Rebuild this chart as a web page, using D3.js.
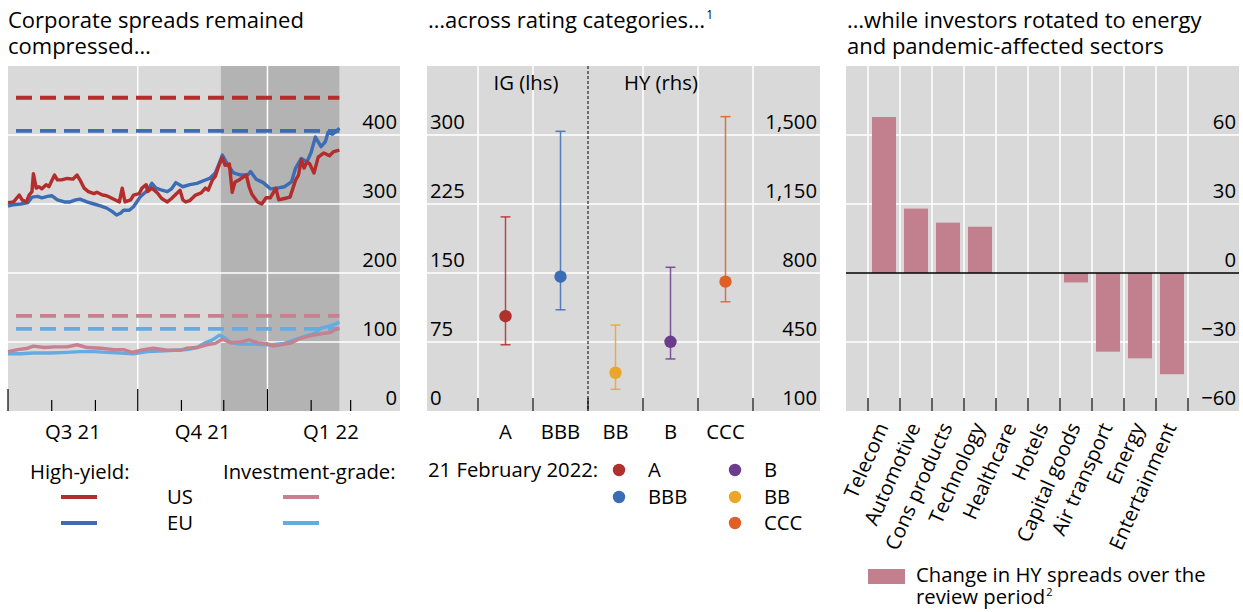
<!DOCTYPE html>
<html><head><meta charset="utf-8">
<script src="https://cdn.jsdelivr.net/npm/d3@7"></script>
<style>body{margin:0;background:#fff}svg{display:block;font-family:"Open Sans",sans-serif}</style>
</head><body>
<script>
// ---------- Panel 1 data ----------
const hyUS = [["2021-07-01",302],["2021-07-05",303],["2021-07-09",313],["2021-07-11",306],["2021-07-14",303],["2021-07-16",313],["2021-07-18",318],["2021-07-19",344],["2021-07-21",323],["2021-07-23",325],["2021-07-25",322],["2021-07-28",328],["2021-07-30",325],["2021-08-03",342],["2021-08-05",335],["2021-08-08",335],["2021-08-12",337],["2021-08-16",336],["2021-08-19",342],["2021-08-21",335],["2021-08-24",323],["2021-08-27",318],["2021-08-31",315],["2021-09-02",317],["2021-09-06",313],["2021-09-09",312],["2021-09-13",308],["2021-09-18",303],["2021-09-20",323],["2021-09-22",303],["2021-09-26",306],["2021-09-28",313],["2021-10-02",315],["2021-10-04",323],["2021-10-07",328],["2021-10-08",318],["2021-10-11",323],["2021-10-15",316],["2021-10-18",308],["2021-10-22",303],["2021-10-25",308],["2021-10-31",320],["2021-11-02",306],["2021-11-04",303],["2021-11-07",305],["2021-11-11",313],["2021-11-15",316],["2021-11-18",323],["2021-11-20",320],["2021-11-23",335],["2021-11-25",340],["2021-11-28",358],["2021-11-30",367],["2021-12-02",356],["2021-12-05",358],["2021-12-07",317],["2021-12-09",332],["2021-12-12",335],["2021-12-14",338],["2021-12-17",342],["2021-12-19",325],["2021-12-21",314],["2021-12-25",303],["2021-12-28",300],["2021-12-31",309],["2022-01-03",309],["2022-01-07",323],["2022-01-09",306],["2022-01-13",308],["2022-01-17",310],["2022-01-21",335],["2022-01-23",342],["2022-01-25",364],["2022-01-27",352],["2022-01-29",361],["2022-01-31",358],["2022-02-03",345],["2022-02-06",368],["2022-02-10",374],["2022-02-14",370],["2022-02-17",376],["2022-02-21",378]];
const hyEU = [["2021-07-01",297],["2021-07-05",299],["2021-07-10",300],["2021-07-15",302],["2021-07-18",310],["2021-07-22",311],["2021-07-25",309],["2021-07-29",311],["2021-08-01",312],["2021-08-05",306],["2021-08-10",303],["2021-08-14",303],["2021-08-18",306],["2021-08-21",307],["2021-08-26",303],["2021-08-31",300],["2021-09-05",297],["2021-09-09",294],["2021-09-13",289],["2021-09-16",284],["2021-09-19",287],["2021-09-21",291],["2021-09-25",291],["2021-09-28",296],["2021-10-03",311],["2021-10-08",320],["2021-10-11",330],["2021-10-14",323],["2021-10-17",321],["2021-10-22",318],["2021-10-25",322],["2021-10-28",331],["2021-11-02",325],["2021-11-07",328],["2021-11-12",330],["2021-11-17",334],["2021-11-21",337],["2021-11-25",345],["2021-11-28",360],["2021-11-30",371],["2021-12-04",356],["2021-12-08",345],["2021-12-13",342],["2021-12-18",342],["2021-12-20",347],["2021-12-24",336],["2021-12-29",331],["2022-01-03",322],["2022-01-08",323],["2022-01-13",325],["2022-01-18",332],["2022-01-21",352],["2022-01-25",366],["2022-01-29",361],["2022-02-01",375],["2022-02-04",397],["2022-02-08",383],["2022-02-11",390],["2022-02-13",404],["2022-02-16",401],["2022-02-18",404],["2022-02-21",410]];
const igUS = [["2021-07-01",86],["2021-07-08",89],["2021-07-15",91],["2021-07-19",94],["2021-07-27",92],["2021-08-03",93],["2021-08-12",93],["2021-08-19",96],["2021-08-26",92],["2021-09-05",91],["2021-09-14",89],["2021-09-21",89],["2021-09-27",85],["2021-10-03",88],["2021-10-12",91],["2021-10-22",88],["2021-10-31",88],["2021-11-05",91],["2021-11-12",92],["2021-11-19",96],["2021-11-25",98],["2021-11-30",104],["2021-12-06",99],["2021-12-13",100],["2021-12-19",103],["2021-12-25",99],["2021-12-31",98],["2022-01-05",94],["2022-01-13",97],["2022-01-17",98],["2022-01-24",105],["2022-01-31",109],["2022-02-08",112],["2022-02-15",114],["2022-02-18",118],["2022-02-21",120]];
const igEU = [["2021-07-01",83],["2021-07-10",83],["2021-07-19",84],["2021-07-31",84],["2021-08-12",85],["2021-08-21",86],["2021-08-31",86],["2021-09-09",85],["2021-09-19",84],["2021-09-28",83],["2021-10-08",86],["2021-10-17",87],["2021-10-27",88],["2021-11-05",89],["2021-11-12",92],["2021-11-17",98],["2021-11-23",103],["2021-11-28",110],["2021-12-01",107],["2021-12-06",99],["2021-12-13",97],["2021-12-22",97],["2021-12-29",96],["2022-01-05",96],["2022-01-13",98],["2022-01-20",103],["2022-01-27",108],["2022-02-03",112],["2022-02-08",120],["2022-02-12",122],["2022-02-17",125],["2022-02-21",129]];
const avgLevels = [454, 406, 138, 119]; // HY US, HY EU, IG US, IG EU averages
const seriesColors = ["#b22d2b", "#3c6cb4", "#c6808f", "#63ace3"];
const reviewPeriod = ["2021-11-29", "2022-02-21"];
const yTicks1 = [0, 100, 200, 300, 400];
const quarterLabels = ["Q3 21", "Q4 21", "Q1 22"];

// ---------- Panel 2 data ----------
const ratings = ["A", "BBB", "BB", "B", "CCC"];
const ratingGroup = ["IG", "IG", "HY", "HY", "HY"];
const ratingLow = [72, 110, 210, 364, 654];
const ratingHigh = [211, 304, 536, 829, 1593];
const ratingNow = [103, 146, 294, 451, 756];
const ratingColors = ["#b0302c", "#3b6db4", "#eaa62a", "#6b3c8c", "#e05f25"];
const yTicksIG = [0, 75, 150, 225, 300];
const yTicksHY = [100, 450, 800, 1150, 1500];

// ---------- Panel 3 data ----------
const sectors = ["Telecom","Automotive","Cons products","Technology","Healthcare","Hotels","Capital goods","Air transport","Energy","Entertainment"];
const sectorChange = [67.8, 28, 21.9, 20.1, 0, 0, -4.1, -34.2, -37.1, -44];
const yTicks3 = [-60, -30, 0, 30, 60];

const W = 1243, H = 612;
const svg = d3.select("body").append("svg").attr("width", W).attr("height", H);
const FS = 20.3, TFS = 22;
const bg = "#d9d9d9";
const fmtNum = d3.format(",");
const fmtMinus = v => v < 0 ? "\u2212" + Math.abs(v) : String(v);

function title(x, lines, sup) {
  const t = svg.append("text").attr("x", x).attr("y", 28).attr("font-size", TFS).attr("fill", "#000");
  lines.forEach((l, i) => {
    t.append("tspan").attr("x", x).attr("dy", i === 0 ? 0 : 26).text(l);
  });
  if (sup) t.append("tspan").attr("font-size", 12).attr("dx", 1).attr("dy", -9).text(sup);
}

// ================= PANEL 1 =================
const p1 = {l: 8, r: 400, t: 66, b: 411};
const parse = d3.utcParse("%Y-%m-%d");
const x1 = d3.scaleUtc().domain([parse("2021-07-01"), parse("2022-04-05")]).range([p1.l, p1.r]);
const y1 = d3.scaleLinear().domain([0, 500]).range([p1.b, p1.t]);
title(8, ["Corporate spreads remained", "compressed\u2026"]);
const g1 = svg.append("g");
g1.append("rect").attr("x", p1.l).attr("y", p1.t).attr("width", p1.r - p1.l).attr("height", p1.b - p1.t).attr("fill", bg);
g1.append("rect").attr("x", x1(parse(reviewPeriod[0]))).attr("y", p1.t)
  .attr("width", x1(parse(reviewPeriod[1])) - x1(parse(reviewPeriod[0]))).attr("height", p1.b - p1.t).attr("fill", "#b3b3b3");
const months = d3.utcMonth.range(parse("2021-07-01"), parse("2022-03-02"));
const quarters = months.filter(m => m.getUTCMonth() % 3 === 0);
g1.selectAll(".vg").data(quarters.slice(1)).join("line").attr("x1", d => x1(d)).attr("x2", d => x1(d))
  .attr("y1", p1.t).attr("y2", p1.b).attr("stroke", "#fff").attr("stroke-width", 1.5);
g1.selectAll(".hg").data(yTicks1.slice(1)).join("line").attr("x1", p1.l).attr("x2", p1.r)
  .attr("y1", d => y1(d)).attr("y2", d => y1(d)).attr("stroke", "#fff").attr("stroke-width", 1.5);
g1.selectAll(".tk").data(months).join("line").attr("x1", d => x1(d)).attr("x2", d => x1(d))
  .attr("y1", d => d.getUTCMonth() % 3 === 0 ? p1.b - 22 : p1.b - 11).attr("y2", p1.b).attr("stroke", "#000").attr("stroke-width", 1.2);
g1.selectAll(".yl").data(yTicks1).join("text").attr("x", p1.r - 3).attr("y", d => y1(d) - 6)
  .attr("text-anchor", "end").attr("font-size", FS).text(d => d);
g1.selectAll(".ql").data(quarters).join("text")
  .attr("x", (d, i) => (x1(d) + x1(d3.utcMonth.offset(d, 3))) / 2).attr("y", 439)
  .attr("text-anchor", "middle").attr("font-size", FS).text((d, i) => quarterLabels[i]);
// averages (dashed)
const startD = parse("2021-07-01"), endD = parse("2022-02-21");
avgLevels.forEach((v, i) => {
  g1.append("line").attr("x1", x1(startD)).attr("x2", x1(endD)).attr("y1", y1(v)).attr("y2", y1(v))
    .attr("stroke", seriesColors[i]).attr("stroke-width", 3.8).attr("stroke-dasharray", "16,8").attr("stroke-dashoffset", 16);
});
const line1 = d3.line().x(d => x1(parse(d[0]))).y(d => y1(d[1]));
[[igEU, 3], [igUS, 2], [hyEU, 1], [hyUS, 0]].forEach(([s, ci]) => {
  g1.append("path").datum(s).attr("d", line1).attr("fill", "none").attr("stroke", seriesColors[ci])
    .attr("stroke-width", 3.4).attr("stroke-linejoin", "round");
});
// legend panel 1
svg.append("text").attr("x", 30).attr("y", 479).attr("font-size", FS).text("High-yield:");
svg.append("text").attr("x", 223).attr("y", 479).attr("font-size", FS).text("Investment-grade:");
[["US", 497], ["EU", 523]].forEach(([lab, yy], i) => {
  svg.append("text").attr("x", 167).attr("y", yy + 7).attr("font-size", FS).text(lab);
  svg.append("line").attr("x1", 61).attr("x2", 97).attr("y1", yy).attr("y2", yy).attr("stroke", seriesColors[i]).attr("stroke-width", 4);
  svg.append("line").attr("x1", 283).attr("x2", 319).attr("y1", yy).attr("y2", yy).attr("stroke", seriesColors[i + 2]).attr("stroke-width", 4);
});

// ================= PANEL 2 =================
const p2 = {l: 427, r: 820, t: 66, b: 411};
title(428, ["\u2026across rating categories\u2026"], "1");
const x2 = d3.scaleBand().domain(ratings).range([478, 753]).padding(0);
const yIG = d3.scaleLinear().domain([0, 375]).range([p2.b, p2.t]);
const yHY = d3.scaleLinear().domain([100, 1850]).range([p2.b, p2.t]);
const g2 = svg.append("g");
g2.append("rect").attr("x", p2.l).attr("y", p2.t).attr("width", p2.r - p2.l).attr("height", p2.b - p2.t).attr("fill", bg);
const edges = ratings.map(r => x2(r)).concat([x2(ratings[ratings.length - 1]) + x2.bandwidth()]);
g2.selectAll(".hg").data(yTicksIG.slice(1)).join("line").attr("x1", p2.l).attr("x2", p2.r)
  .attr("y1", d => yIG(d)).attr("y2", d => yIG(d)).attr("stroke", "#fff").attr("stroke-width", 1.5);
g2.selectAll(".vg").data(edges.filter((e, i) => i !== 2)).join("line").attr("x1", d => d).attr("x2", d => d)
  .attr("y1", p2.t).attr("y2", p2.b).attr("stroke", "#fff").attr("stroke-width", 1.5);
g2.append("line").attr("x1", edges[2]).attr("x2", edges[2]).attr("y1", p2.t).attr("y2", p2.b)
  .attr("stroke", "#000").attr("stroke-width", 1).attr("stroke-dasharray", "3,2");
g2.selectAll(".tk").data(edges).join("line").attr("x1", d => d).attr("x2", d => d)
  .attr("y1", p2.b - 13).attr("y2", p2.b).attr("stroke", "#000").attr("stroke-width", 1.2);
g2.selectAll(".yl").data(yTicksIG).join("text").attr("x", 430).attr("y", d => yIG(d) - 6)
  .attr("font-size", FS).text(d => d);
g2.selectAll(".yr").data(yTicksHY).join("text").attr("x", p2.r - 3).attr("y", d => yHY(d) - 6)
  .attr("text-anchor", "end").attr("font-size", FS).text(d => fmtNum(d));
g2.append("text").attr("x", 526).attr("y", 90).attr("text-anchor", "middle").attr("font-size", FS).text("IG (lhs)");
g2.append("text").attr("x", 661).attr("y", 90).attr("text-anchor", "middle").attr("font-size", FS).text("HY (rhs)");
ratings.forEach((r, i) => {
  const ys = ratingGroup[i] === "IG" ? yIG : yHY;
  const cx = x2(r) + x2.bandwidth() / 2;
  const c = ratingColors[i];
  g2.append("line").attr("x1", cx).attr("x2", cx).attr("y1", ys(ratingLow[i])).attr("y2", ys(ratingHigh[i])).attr("stroke", c).attr("stroke-width", 1.5).attr("opacity", 0.85);
  [ratingLow[i], ratingHigh[i]].forEach(v => g2.append("line").attr("x1", cx - 5).attr("x2", cx + 5)
    .attr("y1", ys(v)).attr("y2", ys(v)).attr("stroke", c).attr("stroke-width", 1.5).attr("opacity", 0.85));
  g2.append("circle").attr("cx", cx).attr("cy", ys(ratingNow[i])).attr("r", 6.2).attr("fill", c);
  g2.append("text").attr("x", cx).attr("y", 439).attr("text-anchor", "middle").attr("font-size", FS).text(r);
});
// legend panel 2
svg.append("text").attr("x", 428).attr("y", 477).attr("font-size", FS).text("21 February 2022:");
const legOrder = [[0, 619, 470], [1, 619, 497], [3, 735, 470], [2, 735, 497], [4, 735, 523]];
legOrder.forEach(([i, lx, ly]) => {
  svg.append("circle").attr("cx", lx).attr("cy", ly).attr("r", 6.2).attr("fill", ratingColors[i]);
  svg.append("text").attr("x", lx + 29).attr("y", ly + 7).attr("font-size", FS).text(ratings[i]);
});

// ================= PANEL 3 =================
const p3 = {l: 846, r: 1239, t: 66, b: 411};
title(847, ["\u2026while investors rotated to energy", "and pandemic-affected sectors"]);
const x3 = d3.scaleBand().domain(sectors).range([868, 1188]).paddingInner(0.25).paddingOuter(0.125);
const y3 = d3.scaleLinear().domain([-60, 90]).range([p3.b, p3.t]);
const g3 = svg.append("g");
g3.append("rect").attr("x", p3.l).attr("y", p3.t).attr("width", p3.r - p3.l).attr("height", p3.b - p3.t).attr("fill", bg);
const step = x3.step();
const edges3 = sectors.map(s => x3(s) - step * x3.paddingInner() / 2).concat([x3(sectors[sectors.length - 1]) + x3.bandwidth() + step * x3.paddingInner() / 2]);
g3.selectAll(".hg").data(yTicks3.filter(d => d !== 0 && d !== -60)).join("line").attr("x1", p3.l).attr("x2", p3.r)
  .attr("y1", d => y3(d)).attr("y2", d => y3(d)).attr("stroke", "#fff").attr("stroke-width", 1.5);
g3.selectAll(".vg").data(edges3).join("line").attr("x1", d => d).attr("x2", d => d)
  .attr("y1", p3.t).attr("y2", p3.b).attr("stroke", "#fff").attr("stroke-width", 1.5);
g3.selectAll(".bar").data(sectors).join("rect").attr("x", d => x3(d)).attr("width", x3.bandwidth())
  .attr("y", (d, i) => y3(Math.max(0, sectorChange[i]))).attr("height", (d, i) => Math.abs(y3(sectorChange[i]) - y3(0)))
  .attr("fill", "#c27f8e");
g3.append("line").attr("x1", p3.l).attr("x2", p3.r).attr("y1", y3(0)).attr("y2", y3(0)).attr("stroke", "#000").attr("stroke-width", 1.5);
g3.selectAll(".tk").data(edges3).join("line").attr("x1", d => d).attr("x2", d => d)
  .attr("y1", p3.b - 13).attr("y2", p3.b).attr("stroke", "#000").attr("stroke-width", 1.2);
g3.selectAll(".yl").data(yTicks3).join("text").attr("x", p3.r - 3).attr("y", d => y3(d) - 6)
  .attr("text-anchor", "end").attr("font-size", FS).text(d => fmtMinus(d));
g3.selectAll(".xl").data(sectors).join("text")
  .attr("transform", d => `translate(${x3(d) + x3.bandwidth() / 2 - 8},${421}) rotate(-66)`)
  .attr("text-anchor", "end").attr("dy", "0.7em").attr("font-size", FS).text(d => d);
// legend panel 3
svg.append("rect").attr("x", 868).attr("y", 569).attr("width", 37).attr("height", 15).attr("fill", "#c27f8e");
const lt = svg.append("text").attr("x", 916).attr("y", 582).attr("font-size", FS);
lt.append("tspan").attr("x", 916).text("Change in HY spreads over the");
lt.append("tspan").attr("x", 916).attr("dy", 22).text("review period");
lt.append("tspan").attr("font-size", 11).attr("dx", 1).attr("dy", -8).text("2");
</script>
</body></html>
